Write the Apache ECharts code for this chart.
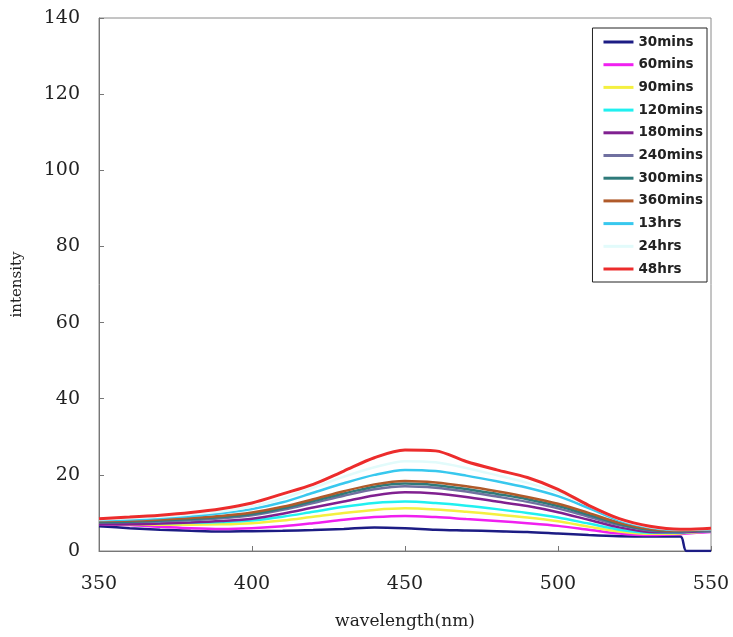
<!DOCTYPE html>
<html>
<head>
<meta charset="utf-8">
<script src="https://cdn.jsdelivr.net/npm/echarts@6/dist/echarts.min.js"></script>
<style>
  html, body { margin: 0; padding: 0; background: #fff; }
  #chart { width: 733px; height: 637px; }
</style>
</head>
<body>
<div id="chart"></div>
<script>
const wavelengths = [350, 360, 370, 380, 390, 400, 410, 420, 430, 440, 450, 460, 470, 480, 490, 500, 510, 520, 530, 540, 542, 550];

const names = ['30mins', '60mins', '90mins', '120mins', '180mins', '240mins', '300mins', '360mins', '13hrs', '24hrs', '48hrs'];
const colors = ['#1c1c84', '#f020f0', '#f4f040', '#20f0f0', '#802090', '#7070a0', '#2f7a7a', '#b05a2a', '#38c8ee', '#e2fbfb', '#ec2c2c'];

const mins30 = [6.5, 6.0, 5.6, 5.3, 5.1, 5.2, 5.3, 5.5, 5.8, 6.2, 6.0, 5.6, 5.4, 5.2, 5.0, 4.6, 4.2, 3.9, 3.8, 3.8, 0, 0];
const mins60 = [7.0, 6.8, 6.4, 6.0, 5.8, 6.0, 6.5, 7.3, 8.2, 8.9, 9.2, 8.9, 8.4, 7.9, 7.3, 6.6, 5.6, 4.6, 4.2, 4.4, 4.6, 5.0];
const mins90 = [7.2, 7.0, 6.9, 6.9, 7.0, 7.3, 8.0, 9.0, 10.0, 10.8, 11.2, 10.9, 10.3, 9.6, 8.8, 7.8, 6.4, 5.1, 4.5, 4.6, 4.8, 5.1];
const mins120 = [7.4, 7.3, 7.3, 7.4, 7.6, 8.0, 9.0, 10.3, 11.6, 12.6, 13.0, 12.6, 11.9, 11.0, 10.0, 8.8, 7.2, 5.6, 4.8, 4.8, 4.9, 5.2];
const mins180 = [7.0, 7.0, 7.2, 7.5, 7.9, 8.5, 9.8, 11.4, 13.0, 14.6, 15.4, 15.1, 14.2, 13.0, 11.8, 10.2, 8.2, 6.2, 5.0, 4.9, 5.0, 5.2];
const mins240 = [7.5, 7.6, 7.8, 8.1, 8.6, 9.4, 10.8, 12.6, 14.5, 16.2, 17.0, 16.6, 15.6, 14.3, 12.9, 11.2, 9.0, 6.8, 5.4, 5.1, 5.2, 5.4];
const mins300 = [7.6, 7.7, 8.0, 8.4, 8.9, 9.7, 11.2, 13.1, 15.1, 16.9, 17.7, 17.3, 16.3, 15.0, 13.6, 11.8, 9.5, 7.1, 5.6, 5.2, 5.3, 5.5];
const mins360 = [7.9, 8.0, 8.3, 8.7, 9.2, 10.1, 11.6, 13.6, 15.7, 17.5, 18.4, 18.0, 17.0, 15.7, 14.2, 12.4, 10.0, 7.4, 5.8, 5.3, 5.4, 5.6];
const hrs13 = [8.1, 8.3, 8.7, 9.2, 9.9, 11.0, 12.8, 15.3, 17.8, 20.0, 21.3, 21.0, 19.8, 18.3, 16.6, 14.4, 11.3, 8.0, 6.2, 5.5, 5.5, 5.7];
const hrs24 = [8.3, 8.6, 9.0, 9.6, 10.4, 11.7, 13.8, 16.6, 19.5, 22.0, 23.6, 23.3, 21.8, 19.9, 17.9, 15.4, 11.9, 8.3, 6.3, 5.6, 5.6, 5.8];
const hrs48 = [8.5, 8.9, 9.4, 10.1, 11.1, 12.6, 15.0, 17.5, 21.0, 24.5, 26.5, 26.3, 23.5, 21.3, 19.3, 16.2, 12.0, 8.5, 6.5, 5.7, 5.7, 6.0];

const seriesValues = [mins30, mins60, mins90, mins120, mins180, mins240, mins300, mins360, hrs13, hrs24, hrs48];

const chart = echarts.init(document.getElementById('chart'));

const series = names.map((name, i) => ({
  name,
  type: 'line',
  smooth: 0.3,
  symbol: 'none',
  data: wavelengths.map((w, j) => [w, seriesValues[i][j]]),
  lineStyle: { color: colors[i], width: i === 10 ? 3 : 2.5 },
  itemStyle: { color: colors[i] }
}));

chart.setOption({
  animation: false,
  grid: {
    left: 99, right: 22, top: 18, bottom: 86,
    show: true, borderColor: '#8a8a8a', borderWidth: 1
  },
  legend: {
    data: names,
    orient: 'vertical',
    right: 26,
    top: 28,
    icon: 'rect',
    itemWidth: 30,
    itemHeight: 3,
    itemGap: 8.7,
    padding: [7, 4, 6, 11],
    borderColor: '#222',
    borderWidth: 1,
    textStyle: {
      fontFamily: 'DejaVu Sans',
      fontWeight: 'bold',
      fontSize: 13.5,
      lineHeight: 14,
      color: '#222'
    }
  },
  xAxis: {
    type: 'value',
    min: 350,
    max: 550,
    interval: 50,
    name: 'wavelength(nm)',
    nameLocation: 'middle',
    nameGap: 62,
    nameTextStyle: { fontFamily: 'DejaVu Serif', fontSize: 17, color: '#222' },
    axisLine: { lineStyle: { color: '#777' } },
    axisTick: { inside: true, length: 5, lineStyle: { color: '#777' } },
    axisLabel: { margin: 24, fontFamily: 'DejaVu Serif', fontSize: 19, color: '#222' },
    splitLine: { show: false }
  },
  yAxis: {
    type: 'value',
    min: 0,
    max: 140,
    interval: 20,
    name: 'intensity',
    nameLocation: 'middle',
    nameRotate: 90,
    nameGap: 74,
    nameTextStyle: { fontFamily: 'DejaVu Serif', fontSize: 15, color: '#222' },
    axisLine: { show: true, lineStyle: { color: '#777' } },
    axisTick: { show: true, inside: true, length: 5, lineStyle: { color: '#777' } },
    axisLabel: { margin: 19, fontFamily: 'DejaVu Serif', fontSize: 19, color: '#222' },
    splitLine: { show: false }
  },
  series
});
</script>
</body>
</html>
